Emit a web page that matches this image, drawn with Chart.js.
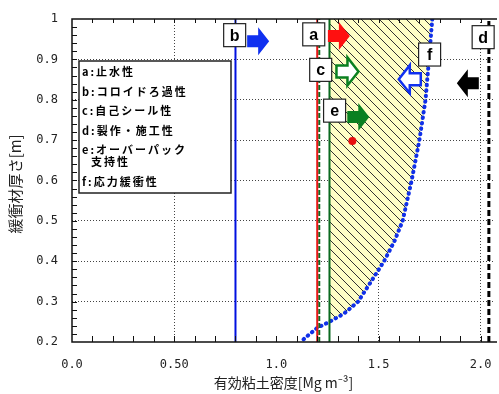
<!DOCTYPE html>
<html>
<head>
<meta charset="utf-8">
<script src="https://cdn.jsdelivr.net/npm/chart.js@4.4.0/dist/chart.umd.min.js"></script>
<style>
  html, body { margin: 0; padding: 0; background: #fff; }
  #wrap { width: 499px; height: 394px; }
</style>
</head>
<body>
<div id="wrap"><canvas id="chart" width="499" height="394"></canvas></div>
<script>
// axis ticks
const xTicks = [0, 0.5, 1.0, 1.5, 2.0];
const xTickLabels = ['0.0', '0.50', '1.0', '1.5', '2.0'];
const yTicks = [0.2, 0.3, 0.4, 0.5, 0.6, 0.7, 0.8, 0.9, 1.0];
const yTickLabels = ['0.2', '0.3', '0.4', '0.5', '0.6', '0.7', '0.8', '0.9', '1'];

// design criteria (clay density limits, Mg/m3)
const densA = 1.20;  // a: 止水性
const densB = 0.80;  // b: コロイドろ過性
const densC = 1.21;  // c: 自己シール性
const densE = 1.26;  // e: オーバーパック支持性
const densD = 2.04;  // d: 製作・施工性

// f: 応力緩衝性 upper limit curve
const curveThick = [1.0, 0.9, 0.8, 0.7, 0.6, 0.5, 0.45, 0.4, 0.35, 0.3, 0.27, 0.25, 0.235, 0.21, 0.2];
const curveDens  = [1.763, 1.747, 1.730, 1.700, 1.662, 1.618, 1.578, 1.527, 1.464, 1.400, 1.330, 1.260, 1.200, 1.140, 1.120];

// design point
const pointDens = [1.372];
const pointThick = [0.698];

const legendLines = ['a:止水性', 'b:コロイドろ過性', 'c:自己シール性', 'd:製作・施工性', 'e:オーバーパック', '  支持性', 'f:応力緩衝性'];

// letter boxes and arrows, in data coords
const boxLetters = ['b', 'a', 'c', 'e', 'f', 'd'];
const boxX = [0.796, 1.183, 1.217, 1.285, 1.750, 2.012];
const boxY = [0.960, 0.962, 0.874, 0.773, 0.912, 0.955];

const arrowX = [0.911, 1.306, 1.348, 1.401, 1.653, 1.937];
const arrowY = [0.945, 0.958, 0.870, 0.757, 0.851, 0.841];
const arrowDir = [1, 1, 1, 1, -1, -1];
const arrowFill = ['#1030f0', '#ff1010', '#ffffff', '#0a8020', '#ffffff', '#000000'];
const arrowLine = [null, null, '#0a8020', null, '#1030f0', null];

const vline = (x) => [{x: x, y: 0.2}, {x: x, y: 1.0}];

function hatchPattern() {
  const s = 9;
  const c = document.createElement('canvas');
  c.width = s; c.height = s;
  const g = c.getContext('2d');
  g.fillStyle = '#ffffc6';
  g.fillRect(0, 0, s, s);
  g.strokeStyle = '#333';
  g.lineWidth = 1;
  g.beginPath();
  g.moveTo(-1, -1); g.lineTo(s + 1, s + 1);
  g.moveTo(-1, s - 1); g.lineTo(1, s + 1);
  g.moveTo(s - 1, -1); g.lineTo(s + 1, 1);
  g.stroke();
  return g.createPattern(c, 'repeat');
}

// hatched admissible region: between line e and curve f
const hatchPts = [{x: densE, y: 1.0}];
for (let i = 0; i < curveThick.length; i++) {
  if (curveDens[i] >= densE) hatchPts.push({x: curveDens[i], y: curveThick[i]});
}
hatchPts.push({x: densE, y: 1.0});

const curvePts = curveThick.map((t, i) => ({x: curveDens[i], y: t}));

function drawArrow(ctx, cx, cy, dir, fill, stroke) {
  const L = 22, hl = 11, hh = 14, th = 6;
  const pts = [[-L / 2, -th], [L / 2 - hl, -th], [L / 2 - hl, -hh], [L / 2, 0], [L / 2 - hl, hh], [L / 2 - hl, th], [-L / 2, th]];
  ctx.beginPath();
  pts.forEach(([px, py], i) => {
    const X = cx + dir * px, Y = cy + py;
    if (i) ctx.lineTo(X, Y); else ctx.moveTo(X, Y);
  });
  ctx.closePath();
  ctx.fillStyle = fill;
  ctx.fill();
  if (stroke) {
    ctx.lineWidth = 2.5;
    ctx.strokeStyle = stroke;
    ctx.stroke();
  }
}

const overlay = {
  id: 'overlay',
  afterDatasetsDraw(chart) {
    const {ctx, chartArea: a, scales: {x, y}} = chart;
    ctx.save();

    // frame
    ctx.strokeStyle = '#111';
    ctx.lineWidth = 1.5;
    ctx.beginPath();
    ctx.moveTo(a.right + 2, a.top);
    ctx.lineTo(a.left, a.top);
    ctx.lineTo(a.left, a.bottom);
    ctx.lineTo(a.right + 2, a.bottom);
    ctx.stroke();

    // inward minor ticks
    ctx.lineWidth = 1;
    ctx.beginPath();
    for (let v = 0.1; v < x.max; v += 0.1) {
      const px = Math.round(x.getPixelForValue(v)) + 0.5;
      ctx.moveTo(px, a.bottom); ctx.lineTo(px, a.bottom - 6);
      ctx.moveTo(px, a.top); ctx.lineTo(px, a.top + 4);
    }
    for (let v = 0.22; v < 1.0; v += 0.02) {
      const py = Math.round(y.getPixelForValue(v)) + 0.5;
      ctx.moveTo(a.left, py); ctx.lineTo(a.left + 5, py);
    }
    ctx.stroke();

    // legend box
    const lx = a.left + 7, ly = 61, lw = 152, lh = 132;
    ctx.fillStyle = '#fff';
    ctx.fillRect(lx, ly, lw, lh);
    ctx.strokeStyle = '#222';
    ctx.lineWidth = 1.5;
    ctx.strokeRect(lx, ly, lw, lh);
    ctx.fillStyle = '#000';
    ctx.font = 'bold 11px "Noto Sans CJK JP", sans-serif';
    ctx.textBaseline = 'middle';
    ctx.textAlign = 'left';
    ctx.letterSpacing = '2px';
    const rows = [72, 92, 111, 131, 150, 162, 182];
    legendLines.forEach((t, i) => ctx.fillText(t, lx + 3, rows[i]));
    ctx.letterSpacing = '0px';

    // letter boxes
    ctx.font = 'bold 16px "Liberation Sans", Arial, sans-serif';
    ctx.textAlign = 'center';
    boxLetters.forEach((l, i) => {
      const cx = x.getPixelForValue(boxX[i]);
      const cy = y.getPixelForValue(boxY[i]);
      ctx.fillStyle = '#fff';
      ctx.fillRect(cx - 11, cy - 11.5, 22, 23);
      ctx.strokeStyle = '#222';
      ctx.lineWidth = 1.2;
      ctx.strokeRect(cx - 11, cy - 11.5, 22, 23);
      ctx.fillStyle = '#000';
      ctx.fillText(l, cx, cy + 1);
    });

    // arrows
    arrowX.forEach((v, i) => {
      drawArrow(ctx, x.getPixelForValue(v), y.getPixelForValue(arrowY[i]), arrowDir[i], arrowFill[i], arrowLine[i]);
    });

    ctx.restore();
  }
};

const gridColor = (c) => {
  const v = c.tick ? c.tick.value : null;
  return (v === 0 || v === 0.2 || v === 1.0) ? 'rgba(0,0,0,0)' : '#444';
};

new Chart(document.getElementById('chart'), {
  type: 'scatter',
  data: {
    datasets: [
      {
        data: hatchPts, showLine: true, fill: 'shape', backgroundColor: hatchPattern(),
        borderWidth: 0, pointRadius: 0, order: 10
      },
      {
        data: curvePts, showLine: true, borderColor: '#1030e8', borderWidth: 4,
        borderDash: [0.5, 5], borderCapStyle: 'round', pointRadius: 0, order: 1
      },
      {data: vline(densB), showLine: true, borderColor: '#0010e0', borderWidth: 2, pointRadius: 0},
      {data: vline(densA), showLine: true, borderColor: '#e81818', borderWidth: 2, pointRadius: 0},
      {data: vline(densC), showLine: true, borderColor: '#0a6a20', borderWidth: 2, borderDash: [5, 2], pointRadius: 0},
      {data: vline(densE), showLine: true, borderColor: '#0a6a20', borderWidth: 2, pointRadius: 0},
      {data: vline(densD), showLine: true, borderColor: '#000', borderWidth: 3, borderDash: [6, 3], pointRadius: 0},
      {
        data: pointDens.map((d, i) => ({x: d, y: pointThick[i]})),
        pointRadius: 4, pointBackgroundColor: '#e81010', pointBorderWidth: 0
      }
    ]
  },
  options: {
    responsive: false,
    animation: false,
    devicePixelRatio: 1,
    layout: {padding: {top: 19, right: 0, left: 0, bottom: 0}},
    plugins: {legend: {display: false}, tooltip: {enabled: false}},
    scales: {
      x: {
        type: 'linear', min: 0, max: 2.07,
        afterBuildTicks: (s) => { s.ticks = xTicks.map((v) => ({value: v})); },
        afterFit: (s) => { s.height = 52; s.paddingLeft = 0; s.paddingRight = 0; },
        grid: {color: gridColor, drawTicks: false, lineWidth: 1},
        border: {display: false, dash: [1, 2]},
        ticks: {
          padding: 16, color: '#222', maxRotation: 0, autoSkip: false,
          font: {family: '"DejaVu Sans Mono", monospace', size: 12},
          callback: (v) => xTickLabels[xTicks.findIndex((t) => Math.abs(t - v) < 1e-6)]
        },
        title: {
          display: true, text: '有効粘土密度[Mg m⁻³]', color: '#222',
          font: {family: '"Noto Sans CJK JP", sans-serif', size: 14},
          padding: {top: 0, bottom: 3}
        }
      },
      y: {
        type: 'linear', min: 0.2, max: 1.0,
        afterBuildTicks: (s) => { s.ticks = yTicks.map((v) => ({value: v})); },
        afterFit: (s) => { s.width = 72; s.paddingTop = 0; s.paddingBottom = 0; },
        grid: {color: gridColor, drawTicks: false, lineWidth: 1},
        border: {display: false, dash: [1, 2]},
        ticks: {
          padding: 14, color: '#222',
          font: {family: '"DejaVu Sans Mono", monospace', size: 12},
          callback: (v) => yTickLabels[yTicks.findIndex((t) => Math.abs(t - v) < 1e-6)]
        },
        title: {
          display: true, text: '緩衝材厚さ[m]  ', color: '#222',
          font: {family: '"Noto Sans CJK JP", sans-serif', size: 15},
          padding: {top: 6, bottom: 0}
        }
      }
    }
  },
  plugins: [overlay]
});
</script>
</body>
</html>
